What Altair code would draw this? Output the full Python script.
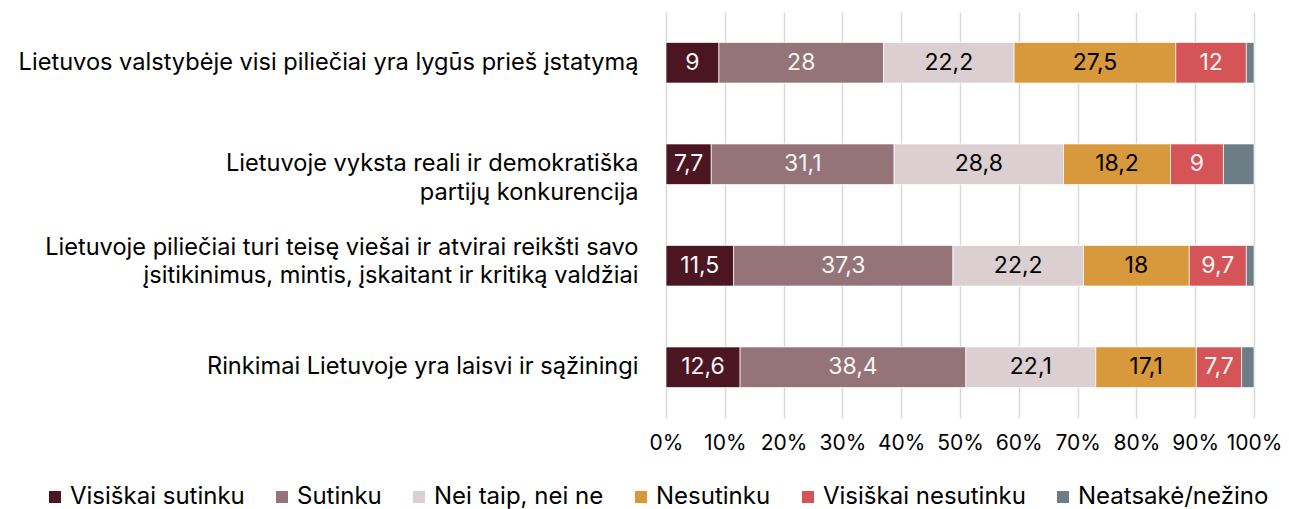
import altair as alt
import pandas as pd

questions = [
    "Lietuvos valstybėje visi piliečiai yra lygūs prieš įstatymą",
    "Lietuvoje vyksta reali ir demokratiška|partijų konkurencija",
    "Lietuvoje piliečiai turi teisę viešai ir atvirai reikšti savo|įsitikinimus, mintis, įskaitant ir kritiką valdžiai",
    "Rinkimai Lietuvoje yra laisvi ir sąžiningi",
]
responses = [
    "Visiškai sutinku",
    "Sutinku",
    "Nei taip, nei ne",
    "Nesutinku",
    "Visiškai nesutinku",
    "Neatsakė/nežino",
]
colors = ["#4B1621", "#947478", "#DCCFD2", "#D8983C", "#D55457", "#6C7D85"]

visiskai_sutinku = [9, 7.7, 11.5, 12.6]
sutinku = [28, 31.1, 37.3, 38.4]
nei_taip_nei_ne = [22.2, 28.8, 22.2, 22.1]
nesutinku = [27.5, 18.2, 18, 17.1]
visiskai_nesutinku = [12, 9, 9.7, 7.7]
neatsake = [1.3, 5.2, 1.3, 2.1]

series = [visiskai_sutinku, sutinku, nei_taip_nei_ne, nesutinku, visiskai_nesutinku, neatsake]
x_ticks = [0, 10, 20, 30, 40, 50, 60, 70, 80, 90, 100]

rows = []
for ri, (resp, vals) in enumerate(zip(responses, series)):
    for q, v in zip(questions, vals):
        rows.append({"question": q, "response": resp, "order": ri, "value": v})
df = pd.DataFrame(rows)

FONT = "Inter"

base = alt.Chart(df).transform_stack(
    stack="value",
    groupby=["question"],
    as_=["x0", "x1"],
    sort=[alt.SortField("order", order="ascending")],
).transform_calculate(
    mid="(datum.x0 + datum.x1) / 2",
    label="replace(toString(datum.value), '.', ',')",
)

y_enc = alt.Y(
    "question:N",
    sort=questions,
    scale=alt.Scale(paddingInner=0.6, paddingOuter=0.3),
    axis=alt.Axis(
        title=None,
        ticks=False,
        domain=False,
        labelFont=FONT,
        labelFontSize=23.6,
        labelColor="#000000",
        labelPadding=28,
        labelLineHeight=28.5,
        labelLimit=0,
        labelExpr="split(datum.label, '|')",
        labelOffset={
            "condition": {"test": "indexof(datum.label, 'turi teis') >= 0", "value": -18},
            "value": 0,
        },
    ),
)

bars = base.mark_bar(stroke="white", strokeWidth=0.7).encode(
    y=y_enc,
    x=alt.X(
        "x0:Q",
        scale=alt.Scale(domain=[0, 100], nice=False),
        axis=alt.Axis(
            title=None,
            values=x_ticks,
            ticks=False,
            domain=False,
            grid=True,
            gridColor="#D9D9D9",
            gridWidth=1.5,
            labelFont=FONT,
            labelFontSize=21,
            labelColor="#000000",
            labelPadding=14,
            labelOverlap=False,
            labelFlush=False,
            labelExpr="datum.value + '%'",
        ),
    ),
    x2="x1:Q",
    color=alt.Color(
        "response:N",
        scale=alt.Scale(domain=responses, range=colors),
        sort=responses,
        legend=alt.Legend(
            title=None,
            orient="none",
            direction="horizontal",
            columns=6,
            legendX=-623,
            legendY=473,
            symbolType="square",
            symbolSize=144,
            symbolStrokeWidth=0,
            labelFont=FONT,
            labelFontSize=24,
            labelColor="#000000",
            labelOffset=3,
            columnPadding=25,
            labelLimit=0,
        ),
    ),
    order=alt.Order("order:Q"),
)

text = base.transform_filter(
    "datum.response != 'Neatsakė/nežino'"
).mark_text(font=FONT, fontSize=23, baseline="middle", align="center").encode(
    y=alt.Y("question:N", sort=questions),
    x=alt.X("mid:Q"),
    text="label:N",
    color=alt.condition(
        "datum.response == 'Nei taip, nei ne' || datum.response == 'Nesutinku'",
        alt.value("#000000"),
        alt.value("#F5F5F5"),
    ),
)

chart = (
    alt.layer(bars, text)
    .properties(
        width=588,
        height=406,
        autosize=alt.AutoSizeParams(type="none"),
        padding={"left": 658, "top": 4, "right": 27, "bottom": 91},
    )
    .configure_view(stroke=None)
)

chart.save("out.html", embed_options={"renderer": "svg", "actions": False})
